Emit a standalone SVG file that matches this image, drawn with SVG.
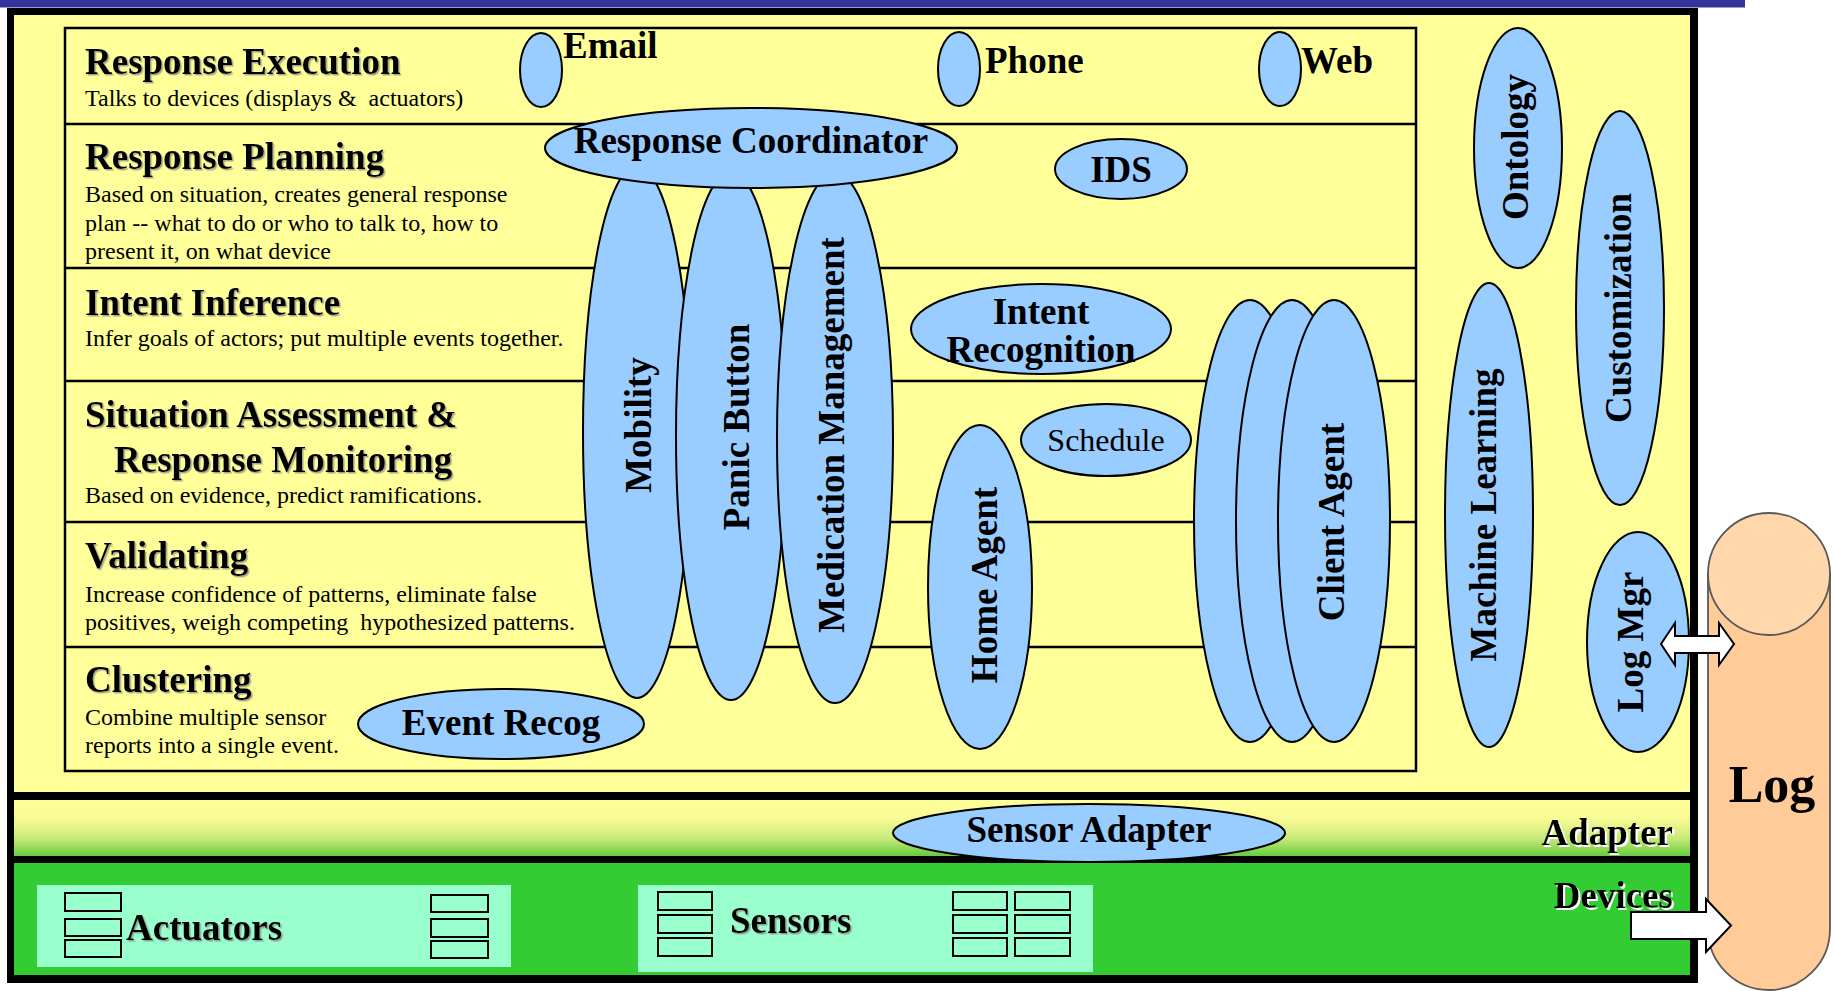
<svg xmlns="http://www.w3.org/2000/svg" width="1834" height="991" viewBox="0 0 1834 991">
  <defs>
    <linearGradient id="adapterFill" x1="0" y1="0" x2="0" y2="1">
      <stop offset="0" stop-color="#FFFF99"/>
      <stop offset="0.35" stop-color="#F7FA94"/>
      <stop offset="0.7" stop-color="#C4E878"/>
      <stop offset="1" stop-color="#66CC40"/>
    </linearGradient>
    <filter id="greyShadow" x="-5%" y="-20%" width="110%" height="140%">
      <feDropShadow dx="1.5" dy="1.5" stdDeviation="0.3" flood-color="#7f7f7f" flood-opacity="0.7"/>
    </filter>
    <filter id="whiteShadow" x="-5%" y="-20%" width="115%" height="140%">
      <feDropShadow dx="2" dy="2" stdDeviation="0" flood-color="#ffffff" flood-opacity="1"/>
    </filter>
  </defs>
  <style>
    .title { font-family: "Liberation Serif", "Times New Roman", serif; font-weight: bold; font-size: 37px; fill: #000; }
    .shadowed { filter: url(#greyShadow); }
    .body { font-family: "Liberation Serif", "Times New Roman", serif; font-size: 24px; fill: #000; white-space: pre; }
    .lbl { font-family: "Liberation Serif", "Times New Roman", serif; font-weight: bold; font-size: 37px; fill: #000; text-anchor: middle; }
    .node { fill: #99CCFF; stroke: #000; stroke-width: 2; }
    .lane { fill: none; stroke: #000; stroke-width: 2.5; }
    .slot { fill: none; stroke: #000; stroke-width: 2; }
    .box { fill: #99FFCC; }
    .arrow { fill: #fff; stroke: #000; stroke-width: 2; stroke-linejoin: miter; }
  </style>

  <!-- page background and title bar -->
  <rect x="0" y="0" width="1834" height="991" fill="#fff"/>
  <rect x="0" y="0" width="1745" height="7" fill="#333399"/>
  <rect x="0" y="7" width="1745" height="1" fill="#9a9acc"/>

  <!-- outer frame with its three bands -->
  <g id="frame">
    <rect x="7" y="8" width="1691" height="975" fill="#000"/>
    <rect x="14" y="15" width="1676" height="777" fill="#FFFF99"/>
    <rect x="14" y="800" width="1676" height="56" fill="url(#adapterFill)"/>
    <rect x="14" y="863" width="1676" height="112" fill="#33CC33"/>
  </g>

  <!-- processing lanes -->
  <g id="lanes">
    <rect class="lane" x="65" y="28" width="1351" height="743"/>
    <line class="lane" x1="65" y1="124" x2="1416" y2="124"/>
    <line class="lane" x1="65" y1="268" x2="1416" y2="268"/>
    <line class="lane" x1="65" y1="381" x2="1416" y2="381"/>
    <line class="lane" x1="65" y1="522" x2="1416" y2="522"/>
    <line class="lane" x1="65" y1="647" x2="1416" y2="647"/>
  </g>

  <g id="lane-response-execution">
    <text class="title shadowed" x="85" y="74">Response Execution</text>
    <text class="body" x="85" y="106">Talks to devices (displays &amp;  actuators)</text>
  </g>
  <g id="lane-response-planning">
    <text class="title shadowed" x="85" y="169">Response Planning</text>
    <text class="body" x="85" y="202">Based on situation, creates general response</text>
    <text class="body" x="85" y="231">plan -- what to do or who to talk to, how to</text>
    <text class="body" x="85" y="259">present it, on what device</text>
  </g>
  <g id="lane-intent-inference">
    <text class="title shadowed" x="85" y="315">Intent Inference</text>
    <text class="body" x="85" y="346">Infer goals of actors; put multiple events together.</text>
  </g>
  <g id="lane-situation-assessment">
    <text class="title shadowed" x="85" y="427">Situation Assessment &amp;</text>
    <text class="title shadowed" x="114" y="472">Response Monitoring</text>
    <text class="body" x="85" y="503">Based on evidence, predict ramifications.</text>
  </g>
  <g id="lane-validating">
    <text class="title shadowed" x="85" y="568">Validating</text>
    <text class="body" x="85" y="602">Increase confidence of patterns, eliminate false</text>
    <text class="body" x="85" y="630">positives, weigh competing  hypothesized patterns.</text>
  </g>
  <g id="lane-clustering">
    <text class="title shadowed" x="85" y="692">Clustering</text>
    <text class="body" x="85" y="725">Combine multiple sensor</text>
    <text class="body" x="85" y="753">reports into a single event.</text>
  </g>

  <!-- output channels -->
  <g id="email">
    <ellipse class="node" cx="541" cy="70" rx="21" ry="37"/>
    <text class="title" x="563" y="58">Email</text>
  </g>
  <g id="phone">
    <ellipse class="node" cx="959" cy="69" rx="21" ry="37"/>
    <text class="title" x="985" y="73">Phone</text>
  </g>
  <g id="web">
    <ellipse class="node" cx="1280" cy="69" rx="21" ry="37"/>
    <text class="title" x="1301" y="73">Web</text>
  </g>

  <!-- vertical service components -->
  <g id="mobility">
    <ellipse class="node" cx="637" cy="432" rx="54" ry="266"/>
    <text class="lbl" transform="translate(651 425) rotate(-90)">Mobility</text>
  </g>
  <g id="panic-button">
    <ellipse class="node" cx="731" cy="436" rx="55" ry="264"/>
    <text class="lbl" transform="translate(749 427) rotate(-90)">Panic Button</text>
  </g>
  <g id="medication-management">
    <ellipse class="node" cx="835" cy="438" rx="58" ry="265"/>
    <text class="lbl" transform="translate(844 435) rotate(-90)">Medication Management</text>
  </g>

  <g id="response-coordinator">
    <ellipse class="node" cx="751" cy="148" rx="206" ry="40"/>
    <text class="lbl" x="751" y="153">Response Coordinator</text>
  </g>
  <g id="ids">
    <ellipse class="node" cx="1121" cy="169" rx="66" ry="30"/>
    <text class="lbl" x="1121" y="182">IDS</text>
  </g>
  <g id="intent-recognition">
    <ellipse class="node" cx="1041" cy="329" rx="130" ry="45"/>
    <text class="lbl" x="1041" y="324">Intent</text>
    <text class="lbl" x="1041" y="362">Recognition</text>
  </g>
  <g id="schedule">
    <ellipse class="node" cx="1106" cy="440" rx="85" ry="36"/>
    <text x="1106" y="451" text-anchor="middle" font-family="Liberation Serif, Times New Roman, serif" font-size="32">Schedule</text>
  </g>
  <g id="home-agent">
    <ellipse class="node" cx="980" cy="587" rx="52" ry="162"/>
    <text class="lbl" transform="translate(997 585) rotate(-90)">Home Agent</text>
  </g>
  <g id="client-agent">
    <ellipse class="node" cx="1250" cy="521" rx="56" ry="221"/>
    <ellipse class="node" cx="1292" cy="521" rx="56" ry="221"/>
    <ellipse class="node" cx="1334" cy="521" rx="56" ry="221"/>
    <text class="lbl" transform="translate(1344 522) rotate(-90)">Client Agent</text>
  </g>
  <g id="event-recog">
    <ellipse class="node" cx="501" cy="724" rx="143" ry="35"/>
    <text class="lbl" x="501" y="735">Event Recog</text>
  </g>

  <!-- cross-cutting components -->
  <g id="ontology">
    <ellipse class="node" cx="1518" cy="148" rx="44" ry="120"/>
    <text class="lbl" transform="translate(1528 147) rotate(-90)">Ontology</text>
  </g>
  <g id="customization">
    <ellipse class="node" cx="1620" cy="308" rx="44" ry="197"/>
    <text class="lbl" transform="translate(1631 308) rotate(-90)">Customization</text>
  </g>
  <g id="machine-learning">
    <ellipse class="node" cx="1489" cy="515" rx="44" ry="232"/>
    <text class="lbl" transform="translate(1496 515) rotate(-90)">Machine Learning</text>
  </g>
  <g id="log-mgr">
    <ellipse class="node" cx="1638" cy="642" rx="51" ry="110"/>
    <text class="lbl" transform="translate(1643 642) rotate(-90)">Log Mgr</text>
  </g>

  <!-- adapter layer -->
  <g id="sensor-adapter">
    <ellipse class="node" cx="1089" cy="833" rx="196" ry="29"/>
    <text class="lbl" x="1089" y="842">Sensor Adapter</text>
  </g>
  <g id="adapter-label">
    <text class="title" x="1673" y="845" text-anchor="end" filter="url(#whiteShadow)">Adapter</text>
  </g>

  <!-- device layer -->
  <g id="actuators">
    <rect class="box" x="37" y="885" width="474" height="82"/>
    <rect class="slot" x="65" y="893" width="56" height="18"/>
    <rect class="slot" x="65" y="919" width="56" height="17"/>
    <rect class="slot" x="65" y="940" width="56" height="17"/>
    <rect class="slot" x="431" y="895" width="57" height="17"/>
    <rect class="slot" x="431" y="919" width="57" height="18"/>
    <rect class="slot" x="431" y="941" width="57" height="17"/>
    <text class="title shadowed" x="126" y="940">Actuators</text>
  </g>
  <g id="sensors">
    <rect class="box" x="638" y="885" width="455" height="87"/>
    <rect class="slot" x="658" y="892" width="54" height="18"/>
    <rect class="slot" x="658" y="915" width="54" height="18"/>
    <rect class="slot" x="658" y="938" width="54" height="18"/>
    <rect class="slot" x="953" y="892" width="54" height="18"/>
    <rect class="slot" x="953" y="915" width="54" height="18"/>
    <rect class="slot" x="953" y="938" width="54" height="18"/>
    <rect class="slot" x="1015" y="892" width="55" height="18"/>
    <rect class="slot" x="1015" y="915" width="55" height="18"/>
    <rect class="slot" x="1015" y="938" width="55" height="18"/>
    <text class="title shadowed" x="730" y="933">Sensors</text>
  </g>
  <g id="devices-label">
    <text class="title" x="1673" y="908" text-anchor="end" filter="url(#whiteShadow)">Devices</text>
  </g>

  <!-- log store -->
  <g id="log">
    <path d="M1708,574 L1708,929 A61,61 0 0 0 1830,929 L1830,574 Z" fill="#FFCC99" stroke="#595959" stroke-width="1.8"/>
    <ellipse cx="1769" cy="574" rx="61" ry="61" fill="#FFD7AB" stroke="#595959" stroke-width="1.8"/>
    <text x="1772" y="802" text-anchor="middle" font-family="Liberation Serif, Times New Roman, serif" font-weight="bold" font-size="52">Log</text>
  </g>

  <!-- connectors -->
  <g id="connectors">
    <polygon class="arrow" points="1661,644 1675,623 1675,636 1719,636 1719,623 1734,644 1719,665 1719,653 1675,653 1675,665"/>
    <polygon class="arrow" points="1631,912 1706,912 1706,899 1731,925.5 1706,952 1706,939 1631,939"/>
  </g>
</svg>
